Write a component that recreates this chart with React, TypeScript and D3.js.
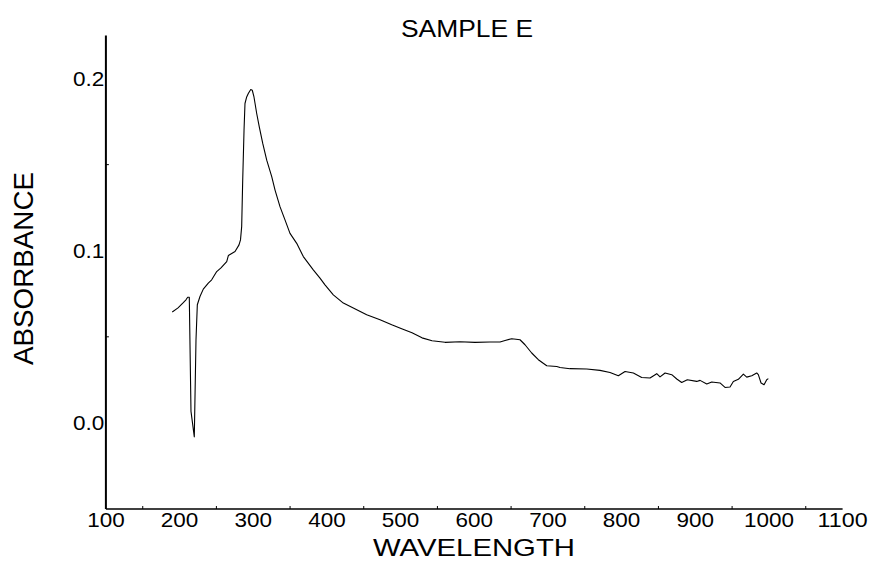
import React from "react";
import * as d3 from "d3";

const wavelength = [
  190.1, 197.9, 204.7, 208.7, 211.0, 213.2, 215.5, 220.0, 222.3, 224.1,
  227.7, 232.2, 239.0, 243.6, 250.4, 256.2, 264.0, 266.2, 275.3, 280.7,
  282.7, 284.3, 285.7, 287.5, 288.8, 291.1, 293.3, 296.6, 298.7, 301.0,
  304.7, 308.2, 312.9, 318.3, 325.1, 329.6, 336.3, 343.1, 349.9, 359.0,
  368.0, 381.5, 390.6, 397.4, 408.7, 422.3, 435.8, 454.0, 472.1, 488.0,
  501.5, 515.5, 529.1, 542.7, 560.3, 580.7, 601.0, 621.4, 635.0, 641.8,
  650.9, 656.7, 662.1, 668.9, 678.0, 687.0, 698.4, 712.0, 716.4, 730.0,
  752.7, 770.7, 784.3, 795.6, 804.7, 816.0, 827.3, 838.6, 847.7, 852.2,
  859.0, 868.1, 874.9, 881.6, 889.2, 902.0, 906.5, 915.6, 922.4, 933.6,
  940.4, 947.2, 951.7, 958.5, 965.3, 969.9, 976.7, 983.4, 985.6, 989.3,
  993.4, 997.0, 999.2,
];

const absorbance = [
  0.0644, 0.0668, 0.0697, 0.0715, 0.073, 0.073, 0.0067, -0.0081, 0.0483, 0.0686,
  0.0734, 0.0777, 0.0812, 0.0831, 0.0879, 0.09, 0.0937, 0.0972, 0.0995, 0.1034,
  0.1063, 0.114, 0.141, 0.17, 0.1855, 0.1893, 0.1913, 0.1936, 0.1932, 0.1893,
  0.1797, 0.1719, 0.1623, 0.1526, 0.143, 0.1352, 0.1256, 0.1179, 0.1101, 0.1043,
  0.0966, 0.0889, 0.0841, 0.0802, 0.0744, 0.0696, 0.0667, 0.0628, 0.0599, 0.057,
  0.0547, 0.0523, 0.0494, 0.0477, 0.0468, 0.0471, 0.0468, 0.047, 0.047, 0.0479,
  0.0489, 0.0486, 0.0483, 0.0454, 0.0406, 0.0367, 0.0332, 0.0328, 0.0322, 0.0315,
  0.0313, 0.0305, 0.0293, 0.0274, 0.0299, 0.029, 0.0264, 0.0261, 0.0286, 0.0267,
  0.029, 0.028, 0.0255, 0.0235, 0.0251, 0.0241, 0.0247, 0.0226, 0.0238, 0.0232,
  0.0206, 0.0209, 0.0241, 0.0253, 0.0283, 0.0266, 0.0274, 0.029, 0.028, 0.0232,
  0.0222, 0.0251, 0.0257,
];

const xTickLabels = ["100", "200", "300", "400", "500", "600", "700", "800", "900", "1000", "1100"];
const xMinorTicks = [150, 250, 350, 450, 550, 650, 750, 850, 950, 1050];
const yTickLabels = ["0.0", "0.1", "0.2"];
const yMinorTicks = [0.05, 0.15];

const title = "SAMPLE E";
const xTitle = "WAVELENGTH";
const yTitle = "ABSORBANCE";

const FONT = "'Liberation Sans', Arial, Helvetica, sans-serif";

function labelWidth(s: string): number {
  let w = 0;
  for (const c of s) w += c === "." ? 6.3 : 12.5;
  return w;
}

export default function App() {
  const width = 870;
  const height = 561;
  const x = d3.scaleLinear().domain([100, 1100]).range([105.9, 842.6]);
  const y = d3.scaleLinear().domain([-0.05, 0.225]).range([509, 35.5]);

  const data = wavelength.map((w, i) => [w, absorbance[i]] as [number, number]);
  const line = d3
    .line<[number, number]>()
    .x((d) => x(d[0]))
    .y((d) => y(d[1]));

  const x0 = x(100);
  const y0 = y(-0.05);

  return (
    <svg
      width={width}
      height={height}
      style={{ position: "absolute", left: 0, top: 0, background: "#fff" }}
    >
      <rect x={0} y={0} width={width} height={height} fill="#fff" />
      <text
        x={467}
        y={37}
        textAnchor="middle"
        fontFamily={FONT}
        fontSize={24.5}
        textLength={132}
        lengthAdjust="spacingAndGlyphs"
        fill="#000"
      >
        {title}
      </text>
      <line x1={x0} x2={x0} y1={y(0.225)} y2={y0} stroke="#000" strokeWidth={2} />
      <line x1={x0} x2={x(1100)} y1={y0} y2={y0} stroke="#000" strokeWidth={1.7} />
      {xMinorTicks.map((t) => (
        <line key={"xm" + t} x1={x(t)} x2={x(t)} y1={y0} y2={y0 - 3} stroke="#000" strokeWidth={1} />
      ))}
      {yMinorTicks.map((t) => (
        <line key={"ym" + t} x1={x0} x2={x0 + 3} y1={y(t)} y2={y(t)} stroke="#000" strokeWidth={1} />
      ))}
      {xTickLabels.map((s) => (
        <text
          key={"xl" + s}
          x={x(+s)}
          y={526.7}
          textAnchor="middle"
          fontFamily={FONT}
          fontSize={21}
          textLength={labelWidth(s)}
          lengthAdjust="spacingAndGlyphs"
          fill="#000"
        >
          {s}
        </text>
      ))}
      {yTickLabels.map((s) => (
        <text
          key={"yl" + s}
          x={104.3 - labelWidth(s)}
          y={y(+s) + 7.4}
          fontFamily={FONT}
          fontSize={21}
          textLength={labelWidth(s)}
          lengthAdjust="spacingAndGlyphs"
          fill="#000"
        >
          {s}
        </text>
      ))}
      <text
        x={474}
        y={555.5}
        textAnchor="middle"
        fontFamily={FONT}
        fontSize={24}
        textLength={202}
        lengthAdjust="spacingAndGlyphs"
        fill="#000"
      >
        {xTitle}
      </text>
      <text
        transform={`translate(33.3, 268.5) rotate(-90)`}
        textAnchor="middle"
        fontFamily={FONT}
        fontSize={28}
        textLength={193}
        lengthAdjust="spacingAndGlyphs"
        fill="#000"
      >
        {yTitle}
      </text>
      <path d={line(data) || ""} fill="none" stroke="#000" strokeWidth={1.1} strokeLinejoin="round" />
    </svg>
  );
}
